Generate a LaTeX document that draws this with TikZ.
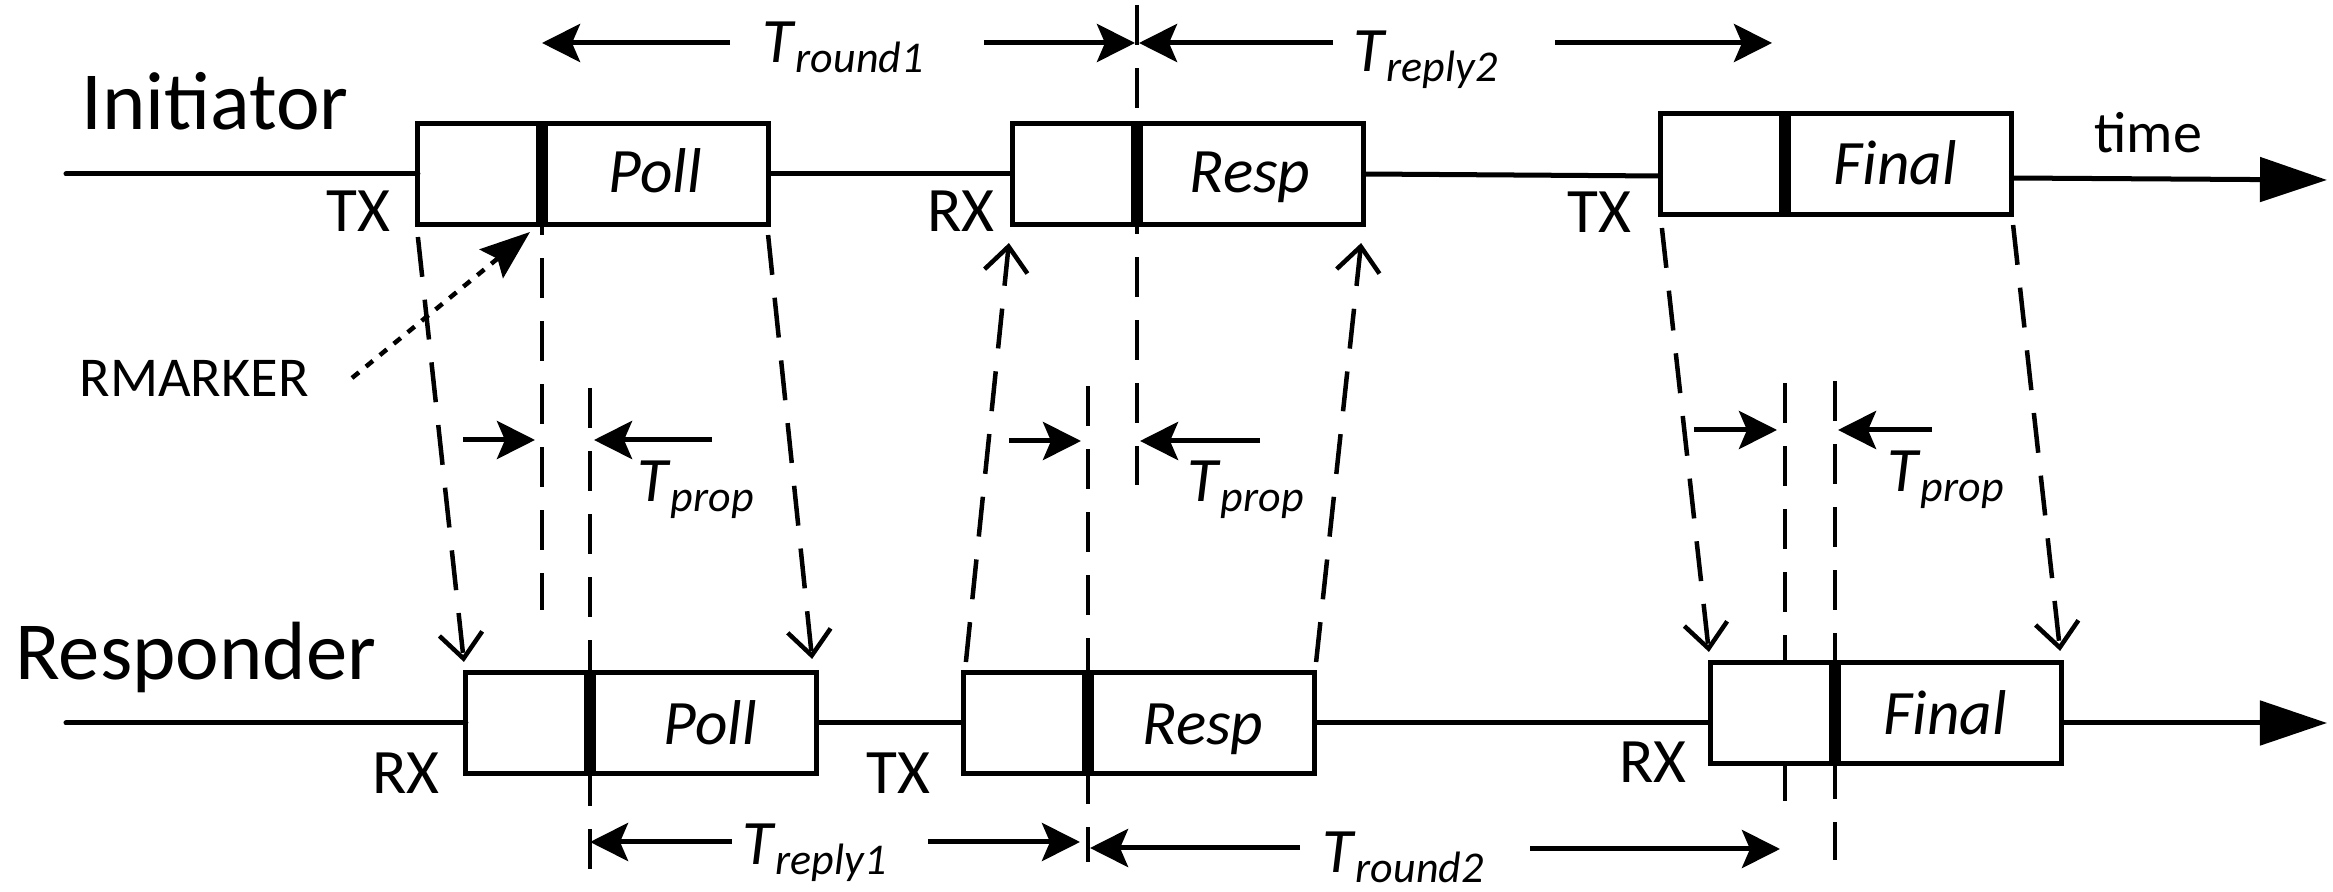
\documentclass[tikz,border=0pt]{standalone}
\usepackage{fontspec}
\setmainfont{Carlito}
\usetikzlibrary{arrows.meta,calc}

\newcommand{\Tlab}[1]{\textit{T}\raisebox{-2.6pt}{\fontsize{12.5}{13}\selectfont\itshape #1}}

\begin{document}
\begin{tikzpicture}[x=0.01cm,y=-0.01cm,
  line width=0.05cm,
  pkt/.style={draw, line width=0.05cm, minimum width=3.5cm, minimum height=1cm, inner sep=0pt, outer sep=0pt, fill=white},
  mk/.style={line width=0.12cm},
  dsh/.style={line width=0.045cm, dash pattern=on 0.4cm off 0.23cm},
  sig/.style={line width=0.045cm, dash pattern=on 0.4cm off 0.23cm, -{Straight Barb[length=0.25cm, width=0.43cm]}},
  meas/.style={line width=0.05cm, -{Stealth[length=0.38cm, width=0.38cm, inset=0.08cm]}},
  axisln/.style={line width=0.05cm, -{Triangle[length=0.67cm, width=0.44cm]}},
  rmarr/.style={line width=0.045cm, dash pattern=on 0.09cm off 0.09cm, -{Stealth[length=0.5cm, width=0.37cm, inset=0.08cm]}},
  big/.style={font=\fontsize{23.5}{28}\selectfont, inner sep=0pt, anchor=base west},
  lab/.style={font=\fontsize{18}{22}\selectfont, inner sep=0pt, anchor=base west},
  pl/.style={font=\fontsize{18}{22}\selectfont\itshape, inner sep=0pt, anchor=base},
  tl/.style={font=\fontsize{18}{22}\selectfont, inner sep=0pt, anchor=base west},
]
\useasboundingbox (0,0) rectangle (2333,892);

% packet boxes (positions)
\coordinate (ipc) at (593,174);
\coordinate (irc) at (1188,174);
\coordinate (ifc) at (1836,164);
\coordinate (rpc) at (641,723);
\coordinate (rrc) at (1139,723);
\coordinate (rfc) at (1886,713);

% marker positions
\coordinate (ipm) at ($(ipc)+(-51,0)$);
\coordinate (irm) at ($(irc)+(-51,0)$);
\coordinate (ifm) at ($(ifc)+(-51,0)$);
\coordinate (rpm) at ($(rpc)+(-51,0)$);
\coordinate (rrm) at ($(rrc)+(-51,0)$);
\coordinate (rfm) at ($(rfc)+(-51,0)$);

% vertical dashed timing lines
\draw[dsh, dash phase=0.29cm] ($(ipm)+(0,50)$) -- ($(ipm)+(0,436)$);
\draw[dsh] ($(irm)+(0,-169)$) -- ($(irm)+(0,311)$);
\draw[dsh] ($(ifm)+(0,219)$) -- ($(ifm)+(0,641)$);
\draw[dsh] ($(rpm)+(0,-335)$) -- ($(rpm)+(0,150)$);
\draw[dsh] ($(rrm)+(0,-337)$) -- ($(rrm)+(0,139)$);
\draw[dsh] ($(rfm)+(0,-332)$) -- ($(rfm)+(0,147)$);

% boxes
\node[pkt] (ipoll) at (ipc) {};
\node[pkt] (iresp) at (irc) {};
\node[pkt] (ifin)  at (ifc) {};
\node[pkt] (rpoll) at (rpc) {};
\node[pkt] (rresp) at (rrc) {};
\node[pkt] (rfin)  at (rfc) {};

% markers
\foreach \b/\m in {ipoll/ipm, iresp/irm, ifin/ifm, rpoll/rpm, rresp/rrm, rfin/rfm}{
  \draw[mk] (\m |- \b.north) -- (\m |- \b.south);
}

% packet labels
\node[pl] (lipoll) at ($(ipm)!0.5!(ipoll.east)+(0,19)$) {Poll};
\node[pl] (liresp) at ($(irm)!0.5!(iresp.east)+(0,19)$) {Resp};
\node[pl] (lifin)  at ($(ifm)!0.5!(ifin.east)+(-3,21)$) {Final};
\node[pl] (lrpoll) at ($(rpm)!0.5!(rpoll.east)+(7,22)$) {Poll};
\node[pl] (lrresp) at ($(rrm)!0.5!(rresp.east)+(2,22)$) {Resp};
\node[pl] (lrfin)  at ($(rfm)!0.5!(rfin.east)+(-3,22)$) {Final};

% time axes
\coordinate (ist) at (66,174);
\coordinate (iend) at (2327,180);
\coordinate (rst) at (66,723);
\coordinate (rend) at (2327,723);
\draw[line cap=round] (ist) -- (ipoll.west);
\draw (ipoll.east) -- (iresp.west);
\draw (iresp.east) -- ($(ifin.west)+(0,12)$);
\draw[axisln] ($(ifin.east)+(0,14)$) -- (iend);
\draw[line cap=round] (rst) -- (rpoll.west);
\draw (rpoll.east) -- (rresp.west);
\draw (rresp.east) -- ($(rfin.west)+(0,10)$);
\draw[axisln] ($(rfin.east)+(0,10)$) -- (rend);

% signal lines
\draw[sig] ($(ipoll.south west)+(0,13)$) -- ($(rpoll.north west)+(-2,-11)$);
\draw[sig] ($(ipoll.south east)+(0,11)$) -- ($(rpoll.north east)+(-4,-14)$);
\draw[sig] ($(rresp.north west)+(2,-11)$) -- ($(iresp.south west)+(-4,19)$);
\draw[sig] ($(rresp.north east)+(2,-11)$) -- ($(iresp.south east)+(-2,19)$);
\draw[sig] ($(ifin.south west)+(1,14)$) -- ($(rfin.north west)+(-2,-11)$);
\draw[sig] ($(ifin.south east)+(2,11)$) -- ($(rfin.north east)+(-1,-12)$);

% top measurements
\coordinate (r1a) at (730,43);
\coordinate (r1b) at (984,43);
\coordinate (p2a) at (1333,43);
\coordinate (p2b) at (1555,43);
\coordinate (p2t) at (1772,43);
\draw[meas] (r1a) -- (r1a -| ipm);
\draw[meas] (r1b) -- ($(r1b -| irm)+(-2,0)$);
\draw[meas] (p2a) -- ($(p2a -| irm)+(2,0)$);
\draw[meas] (p2b) -- (p2t);
\node[tl] (lr1) at (760,63) {\Tlab{round1}};
\node[tl] (lp2) at (1351,72) {\Tlab{reply2}};

% bottom measurements
\coordinate (q1a) at (732,842);
\coordinate (q1b) at (928,842);
\coordinate (q1t) at (1080,842);
\coordinate (q2a) at (1300,848);
\coordinate (q2b) at (1530,849);
\coordinate (q2t) at (1780,849);
\draw[meas] (q1a) -- (q1a -| rpm);
\draw[meas] (q1b) -- (q1t);
\draw[meas] (q2a) -- ($(q2a -| rrm)+(2,0)$);
\draw[meas] (q2b) -- (q2t);
\node[tl] (lq1) at (740,865) {\Tlab{reply1}};
\node[tl] (lq2) at (1320,873) {\Tlab{round2}};

% propagation measurements
\coordinate (pa1) at (463,440);  \coordinate (pa1t) at (535,440);
\coordinate (pb1) at (712,440);  \coordinate (pb1t) at (594,440);
\coordinate (pa2) at (1009,441); \coordinate (pa2t) at (1081,441);
\coordinate (pb2) at (1260,441); \coordinate (pb2t) at (1140,441);
\coordinate (pa3) at (1694,430); \coordinate (pa3t) at (1777,430);
\coordinate (pb3) at (1932,430); \coordinate (pb3t) at (1838,430);
\draw[meas] (pa1) -- (pa1t);
\draw[meas] (pb1) -- (pb1t);
\draw[meas] (pa2) -- (pa2t);
\draw[meas] (pb2) -- (pb2t);
\draw[meas] (pa3) -- (pa3t);
\draw[meas] (pb3) -- (pb3t);
\node[tl] (lt1) at (635,502) {\Tlab{prop}};
\node[tl] (lt2) at (1185,502) {\Tlab{prop}};
\node[tl] (lt3) at (1885,492) {\Tlab{prop}};

% RMARKER pointer
\node[lab, font=\fontsize{16}{20}\selectfont] (rmtext) at (77,397) {RMARKER};
\coordinate (rmk) at (352,378);
\coordinate (rmt) at (530,232);
\draw[rmarr] (rmk) -- (rmt);

% texts
\node[big] (init) at (79,130) {Initiator};
\node[big] (respn) at (13,680) {Responder};
\node[lab] (tx1) at (324,232) {TX};
\node[lab] (rx1) at (925,232) {RX};
\node[lab] (tx2) at (1565,233) {TX};
\node[lab] (rx2) at (370,794) {RX};
\node[lab] (tx3) at (864,794) {TX};
\node[lab] (rx3) at (1617,783) {RX};
\node[lab, font=\fontsize{16.5}{20}\selectfont] (time) at (2092,153) {time};
\end{tikzpicture}
\end{document}
